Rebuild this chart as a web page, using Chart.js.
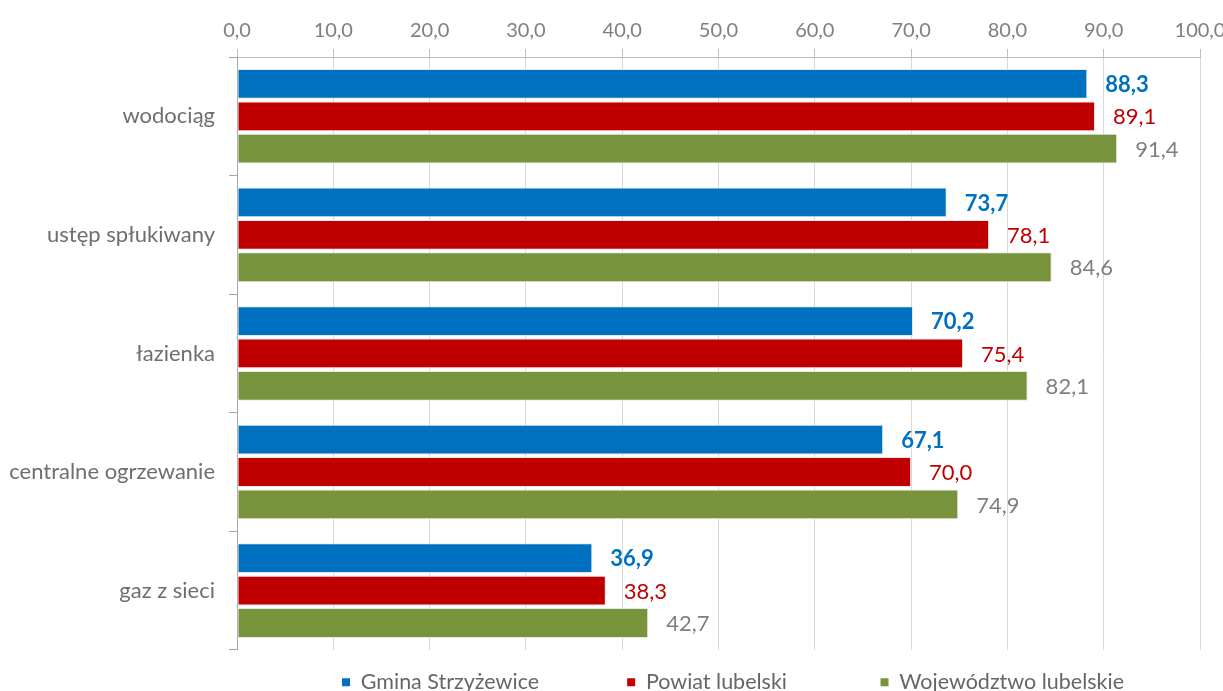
<!DOCTYPE html>
<html>
<head>
<meta charset="utf-8">
<script src="https://cdn.jsdelivr.net/npm/chart.js@4"></script>
<style>
  html, body { margin: 0; padding: 0; background: #fff; }
  #wrap { width: 1223px; height: 691px; }
</style>
</head>
<body>
<div id="wrap"><canvas id="chart"></canvas></div>
<script>
// categories and series (percent of dwellings)
const categories = ['wodociąg', 'ustęp spłukiwany', 'łazienka', 'centralne ogrzewanie', 'gaz z sieci'];
const gmina = [88.3, 73.7, 70.2, 67.1, 36.9];
const powiat = [89.1, 78.1, 75.4, 70.0, 38.3];
const wojewodztwo = [91.4, 84.6, 82.1, 74.9, 42.7];
const seriesNames = ['Gmina Strzyżewice', 'Powiat lubelski', 'Województwo lubelskie'];

const FONT = 'Lato, "Open Sans", sans-serif';
const fmt = v => v.toFixed(1).replace('.', ',');

// value labels at the end of each bar
const labelColors = ['#0070C0', '#C00000', '#7F7F7F'];
const labelWeights = ['bold', 'normal', 'normal'];
const valueLabels = {
  id: 'valueLabels',
  afterDatasetsDraw(chart) {
    const ctx = chart.ctx;
    ctx.save();
    chart.data.datasets.forEach((ds, i) => {
      const meta = chart.getDatasetMeta(i);
      ctx.fillStyle = labelColors[i];
      ctx.font = `${labelWeights[i]} 22px ${FONT}`;
      ctx.textAlign = 'left';
      ctx.textBaseline = 'middle';
      meta.data.forEach((bar, j) => {
        ctx.fillText(fmt(ds.data[j]), bar.x + 18, bar.y + 1);
      });
    });
    ctx.restore();
  }
};

// legend is not centred in the original, push it right
const legendShift = {
  id: 'legendShift',
  afterLayout(chart) { chart.legend.left = 342; }
};

// trailing gaps so the legend items sit where Excel put them
const legendGaps = [' '.repeat(16), ' '.repeat(17), ''];

new Chart(document.getElementById('chart'), {
  type: 'bar',
  data: {
    labels: categories,
    datasets: [
      { label: seriesNames[0], data: gmina, backgroundColor: '#0070C0' },
      { label: seriesNames[1], data: powiat, backgroundColor: '#C00000' },
      { label: seriesNames[2], data: wojewodztwo, backgroundColor: '#77933C' }
    ].map(d => Object.assign(d, {
      borderColor: 'rgba(230,230,230,0.9)',
      borderWidth: 1,
      borderSkipped: false,
      categoryPercentage: 0.82,
      barPercentage: 0.92
    }))
  },
  options: {
    indexAxis: 'y',
    responsive: true,
    maintainAspectRatio: false,
    animation: false,
    layout: { padding: { top: 4, right: 0, bottom: -12, left: 0 } },
    scales: {
      x: {
        position: 'top',
        min: 0,
        max: 100,
        ticks: {
          stepSize: 10,
          color: '#7F7F7F',
          font: { family: FONT, size: 20 },
          padding: 6,
          callback: v => fmt(v)
        },
        grid: { color: '#D9D9D9', tickColor: '#BFBFBF', tickLength: 8, lineWidth: 1 },
        border: { color: '#BFBFBF' },
        afterFit: s => { s.height = 53; s.paddingRight = 23; }
      },
      y: {
        ticks: {
          color: '#6E6E6E',
          font: { family: FONT, size: 22 },
          padding: 14
        },
        grid: { drawOnChartArea: false, tickColor: '#A6A6A6', tickLength: 8, offset: true },
        border: { color: '#A6A6A6' },
        afterFit: s => { s.width = 237; }
      }
    },
    plugins: {
      legend: {
        position: 'bottom',
        align: 'start',
        title: { display: true, text: '', padding: 0, font: { family: FONT, size: 18 } },
        labels: {
          color: '#595959',
          font: { family: FONT, size: 21.5 },
          boxWidth: 8,
          boxHeight: 8,
          padding: 0,
          generateLabels: chart => chart.data.datasets.map((ds, i) => ({
            text: ds.label + legendGaps[i],
            fillStyle: ds.backgroundColor,
            strokeStyle: ds.backgroundColor,
            lineWidth: 0,
            datasetIndex: i
          }))
        }
      },
      tooltip: { enabled: false }
    }
  },
  plugins: [valueLabels, legendShift]
});
</script>
</body>
</html>
